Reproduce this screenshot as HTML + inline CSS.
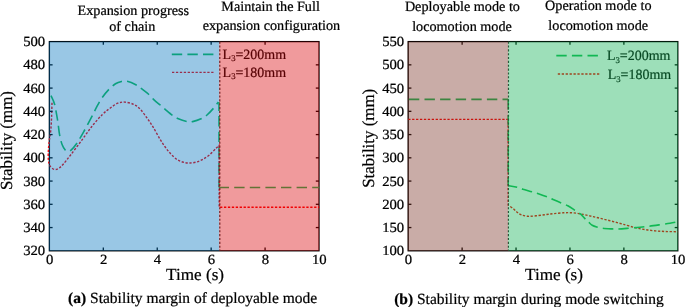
<!DOCTYPE html>
<html><head><meta charset="utf-8"><title>Stability margin</title>
<style>
html,body{margin:0;padding:0;background:#fff;}
body{width:685px;height:307px;overflow:hidden;}
svg{display:block;will-change:transform;}
text{font-family:"Liberation Serif",serif;fill:#000;text-rendering:geometricPrecision;stroke:#000;stroke-width:0.22px;}
.tt{font-size:14.2px;}
.tk{font-size:14px;}
.ax{font-size:16.9px;}
.cp{font-size:15.5px;}
.lg{font-size:14.2px;}
.sb{font-size:8.8px;}
</style></head><body>
<svg width="685" height="307" viewBox="0 0 685 307">
<rect width="685" height="307" fill="#fff"/>
<rect x="49.40" y="41.60" width="269.60" height="209.20" fill="none" stroke="#000" stroke-width="1.3"/>
<path d="M51.00,95.60 C51.58,97.00 53.40,99.88 54.50,104.00 C55.60,108.12 56.75,115.15 57.60,120.30 C58.45,125.45 58.83,130.82 59.60,134.90 C60.37,138.98 61.23,142.23 62.20,144.80 C63.17,147.37 64.43,149.22 65.40,150.30 C66.37,151.38 67.10,151.28 68.00,151.30 C68.90,151.32 69.35,151.70 70.80,150.40 C72.25,149.10 74.43,146.82 76.70,143.50 C78.97,140.18 81.88,134.97 84.40,130.50 C86.92,126.03 89.68,120.77 91.80,116.70 C93.92,112.63 95.42,109.22 97.10,106.10 C98.78,102.98 99.97,100.75 101.90,98.00 C103.83,95.25 106.43,91.97 108.70,89.60 C110.97,87.23 113.37,85.15 115.50,83.80 C117.63,82.45 119.55,81.92 121.50,81.50 C123.45,81.08 124.73,80.72 127.20,81.30 C129.67,81.88 133.92,83.77 136.30,85.00 C138.68,86.23 139.40,87.12 141.50,88.70 C143.60,90.28 146.77,92.60 148.90,94.50 C151.03,96.40 152.35,98.30 154.30,100.10 C156.25,101.90 158.78,103.77 160.60,105.30 C162.42,106.83 163.22,107.63 165.20,109.30 C167.18,110.97 170.42,113.77 172.50,115.30 C174.58,116.83 175.33,117.47 177.70,118.50 C180.07,119.53 184.22,120.98 186.70,121.50 C189.18,122.02 190.10,122.10 192.60,121.60 C195.10,121.10 199.30,119.60 201.70,118.50 C204.10,117.40 205.03,116.70 207.00,115.00 C208.97,113.30 211.62,110.47 213.50,108.30 C215.38,106.13 217.50,103.05 218.30,102.00" fill="none" stroke="#14be55" stroke-width="1.6" stroke-dasharray="10.4 5.2"/>
<path d="M219.0,102.0 V187.5" fill="none" stroke="#14be55" stroke-width="1.6" stroke-dasharray="10.4 5.2" stroke-dashoffset="1.5"/>
<path d="M219.0,187.5 H319.2" fill="none" stroke="#14be55" stroke-width="1.6" stroke-dasharray="10.4 5.2" stroke-dashoffset="0.4"/>
<path d="M52.00,102.80 C51.93,105.17 51.80,112.47 51.60,117.00 C51.40,121.53 51.17,126.17 50.80,130.00 C50.43,133.83 49.80,136.67 49.40,140.00 C49.00,143.33 48.57,146.67 48.40,150.00 C48.23,153.33 48.12,157.33 48.40,160.00 C48.68,162.67 49.13,164.43 50.10,166.00 C51.07,167.57 52.83,168.97 54.20,169.40 C55.57,169.83 56.83,169.42 58.30,168.60 C59.77,167.78 60.95,166.77 63.00,164.50 C65.05,162.23 67.57,158.92 70.60,155.00 C73.63,151.08 77.67,145.75 81.20,141.00 C84.73,136.25 88.27,130.92 91.80,126.50 C95.33,122.08 99.37,117.55 102.40,114.50 C105.43,111.45 107.43,110.08 110.00,108.20 C112.57,106.32 115.32,104.22 117.80,103.20 C120.28,102.18 122.20,101.88 124.90,102.10 C127.60,102.32 131.42,103.28 134.00,104.50 C136.58,105.72 138.23,107.15 140.40,109.40 C142.57,111.65 144.90,115.08 147.00,118.00 C149.10,120.92 150.83,123.37 153.00,126.90 C155.17,130.43 157.97,135.85 160.00,139.20 C162.03,142.55 163.47,144.62 165.20,147.00 C166.93,149.38 168.43,151.42 170.40,153.50 C172.37,155.58 174.82,158.03 177.00,159.50 C179.18,160.97 181.33,161.72 183.50,162.30 C185.67,162.88 187.83,163.05 190.00,163.00 C192.17,162.95 194.33,162.62 196.50,162.00 C198.67,161.38 200.82,160.50 203.00,159.30 C205.18,158.10 207.42,156.63 209.60,154.80 C211.78,152.97 214.53,149.85 216.10,148.30 C217.67,146.75 218.52,145.97 219.00,145.50 L219.2,207.2 L319.2,207.2" fill="none" stroke="#ff0000" stroke-width="1.4" stroke-dasharray="2.3 1.62"/>
<line x1="219.8" y1="41.6" x2="219.8" y2="250.8" stroke="#333" stroke-width="1.2" stroke-dasharray="2.1 1.75"/>
<line x1="171.8" y1="54.4" x2="213.5" y2="54.4" stroke="#14be55" stroke-width="1.6" stroke-dasharray="10.4 5.2"/>
<line x1="172.0" y1="72.4" x2="213.7" y2="72.4" stroke="#ff0000" stroke-width="1.4" stroke-dasharray="2.3 1.62"/>
<text transform="translate(222.6,58.9) scale(0.985,1)" class="lg">L<tspan class="sb" dy="2.3">3</tspan><tspan dy="-2.3">=200mm</tspan></text>
<text transform="translate(222.6,77.1) scale(0.985,1)" class="lg">L<tspan class="sb" dy="2.3">3</tspan><tspan dy="-2.3">=180mm</tspan></text>
<rect x="48.80" y="41.60" width="170.40" height="209.20" fill="rgb(0,114,189)" fill-opacity="0.40"/>
<rect x="219.20" y="41.60" width="99.95" height="209.20" fill="rgb(218,3,8)" fill-opacity="0.40"/>
<path d="M103.32,250.80 v-3.2 M103.32,41.60 v3.2" stroke="rgb(0,46,76)" stroke-width="1.3" fill="none"/><path d="M157.24,250.80 v-3.2 M157.24,41.60 v3.2" stroke="rgb(0,46,76)" stroke-width="1.3" fill="none"/><path d="M211.16,250.80 v-3.2 M211.16,41.60 v3.2" stroke="rgb(0,46,76)" stroke-width="1.3" fill="none"/><path d="M265.08,250.80 v-3.2 M265.08,41.60 v3.2" stroke="rgb(87,1,3)" stroke-width="1.3" fill="none"/><path d="M49.40,64.84 h3.2" stroke="rgb(0,46,76)" stroke-width="1.3" fill="none"/><path d="M319.00,64.84 h-3.2" stroke="rgb(87,1,3)" stroke-width="1.3" fill="none"/><path d="M49.40,88.09 h3.2" stroke="rgb(0,46,76)" stroke-width="1.3" fill="none"/><path d="M319.00,88.09 h-3.2" stroke="rgb(87,1,3)" stroke-width="1.3" fill="none"/><path d="M49.40,111.33 h3.2" stroke="rgb(0,46,76)" stroke-width="1.3" fill="none"/><path d="M319.00,111.33 h-3.2" stroke="rgb(87,1,3)" stroke-width="1.3" fill="none"/><path d="M49.40,134.58 h3.2" stroke="rgb(0,46,76)" stroke-width="1.3" fill="none"/><path d="M319.00,134.58 h-3.2" stroke="rgb(87,1,3)" stroke-width="1.3" fill="none"/><path d="M49.40,157.82 h3.2" stroke="rgb(0,46,76)" stroke-width="1.3" fill="none"/><path d="M319.00,157.82 h-3.2" stroke="rgb(87,1,3)" stroke-width="1.3" fill="none"/><path d="M49.40,181.07 h3.2" stroke="rgb(0,46,76)" stroke-width="1.3" fill="none"/><path d="M319.00,181.07 h-3.2" stroke="rgb(87,1,3)" stroke-width="1.3" fill="none"/><path d="M49.40,204.31 h3.2" stroke="rgb(0,46,76)" stroke-width="1.3" fill="none"/><path d="M319.00,204.31 h-3.2" stroke="rgb(87,1,3)" stroke-width="1.3" fill="none"/><path d="M49.40,227.56 h3.2" stroke="rgb(0,46,76)" stroke-width="1.3" fill="none"/><path d="M319.00,227.56 h-3.2" stroke="rgb(87,1,3)" stroke-width="1.3" fill="none"/>
<rect x="408.20" y="41.60" width="269.60" height="209.20" fill="none" stroke="#000" stroke-width="1.3"/>
<path d="M408.2,119.4 L508.2,119.4 L508.3,205.2 L508.30,205.20 C509.12,205.77 511.72,207.42 513.20,208.60 C514.68,209.78 515.85,211.27 517.20,212.30 C518.55,213.33 519.53,214.13 521.30,214.80 C523.07,215.47 525.35,216.13 527.80,216.30 C530.25,216.47 533.00,216.08 536.00,215.80 C539.00,215.52 542.82,214.97 545.80,214.60 C548.78,214.23 550.92,213.90 553.90,213.60 C556.88,213.30 561.02,212.95 563.70,212.80 C566.38,212.65 567.87,212.63 570.00,212.70 C572.13,212.77 574.33,212.92 576.50,213.20 C578.67,213.48 580.82,213.95 583.00,214.40 C585.18,214.85 587.42,215.42 589.60,215.90 C591.78,216.38 593.93,216.80 596.10,217.30 C598.27,217.80 600.43,218.37 602.60,218.90 C604.77,219.43 606.93,219.95 609.10,220.50 C611.27,221.05 613.42,221.62 615.60,222.20 C617.78,222.78 619.88,223.35 622.20,224.00 C624.52,224.65 626.62,225.33 629.50,226.10 C632.38,226.87 635.65,227.85 639.50,228.60 C643.35,229.35 648.25,230.12 652.60,230.60 C656.95,231.08 661.37,231.32 665.60,231.50 C669.83,231.68 675.93,231.67 678.00,231.70" fill="none" stroke="#ff0000" stroke-width="1.4" stroke-dasharray="2.3 1.62"/>
<path d="M408.2,99.4 H508.2" fill="none" stroke="#14be55" stroke-width="1.6" stroke-dasharray="10.4 5.2" stroke-dashoffset="14.9"/>
<path d="M508.2,99.4 V185.6" fill="none" stroke="#14be55" stroke-width="1.6" stroke-dasharray="10.4 5.2"/>
<path d="M508.30,185.60 C509.78,185.87 514.77,186.60 517.20,187.20 C519.63,187.80 520.45,188.43 522.90,189.20 C525.35,189.97 529.32,191.03 531.90,191.80 C534.48,192.57 535.82,192.93 538.40,193.80 C540.98,194.67 544.95,196.05 547.40,197.00 C549.85,197.95 550.78,198.50 553.10,199.50 C555.42,200.50 558.85,201.95 561.30,203.00 C563.75,204.05 565.48,204.55 567.80,205.80 C570.12,207.05 573.10,209.15 575.20,210.50 C577.30,211.85 578.70,212.47 580.40,213.90 C582.10,215.33 583.98,217.68 585.40,219.10" fill="none" stroke="#14be55" stroke-width="1.6" stroke-dasharray="10.4 5.2" stroke-dashoffset="1.40"/>
<path d="M585.40,219.10 C586.82,220.52 587.77,221.38 588.90,222.40 C590.03,223.42 590.90,224.43 592.20,225.20 C593.50,225.97 594.97,226.48 596.70,227.00 C598.43,227.52 599.98,227.98 602.60,228.30 C605.22,228.62 609.78,228.78 612.40,228.90 C615.02,229.02 615.70,229.10 618.30,229.00 C620.90,228.90 624.38,228.60 628.00,228.30 C631.62,228.00 636.45,227.55 640.00,227.20 C643.55,226.85 645.85,226.63 649.30,226.20 C652.75,225.77 657.25,225.10 660.70,224.60 C664.15,224.10 667.12,223.70 670.00,223.20 C672.88,222.70 676.67,221.87 678.00,221.60" fill="none" stroke="#14be55" stroke-width="1.6" stroke-dasharray="10.4 5.2" stroke-dashoffset="10.94"/>
<line x1="508.5" y1="41.6" x2="508.4" y2="250.8" stroke="#333" stroke-width="1.2" stroke-dasharray="2.1 1.75"/>
<line x1="556.3" y1="55.6" x2="598.2" y2="55.6" stroke="#14be55" stroke-width="1.6" stroke-dasharray="10.4 5.2"/>
<line x1="557.8" y1="74.0" x2="599.3" y2="74.0" stroke="#ff0000" stroke-width="1.4" stroke-dasharray="2.3 1.62"/>
<text transform="translate(606.9,60.3) scale(0.985,1)" class="lg">L<tspan class="sb" dy="2.3">3</tspan><tspan dy="-2.3">=200mm</tspan></text>
<text transform="translate(607.7,79.3) scale(0.985,1)" class="lg">L<tspan class="sb" dy="2.3">3</tspan><tspan dy="-2.3">=180mm</tspan></text>
<rect x="407.60" y="41.60" width="100.60" height="209.20" fill="rgb(120,48,35)" fill-opacity="0.40"/>
<rect x="508.20" y="41.60" width="169.85" height="209.20" fill="rgb(10,175,80)" fill-opacity="0.40"/>
<path d="M462.12,250.80 v-3.2 M462.12,41.60 v3.2" stroke="rgb(48,19,14)" stroke-width="1.3" fill="none"/><path d="M516.04,250.80 v-3.2 M516.04,41.60 v3.2" stroke="rgb(4,70,32)" stroke-width="1.3" fill="none"/><path d="M569.96,250.80 v-3.2 M569.96,41.60 v3.2" stroke="rgb(4,70,32)" stroke-width="1.3" fill="none"/><path d="M623.88,250.80 v-3.2 M623.88,41.60 v3.2" stroke="rgb(4,70,32)" stroke-width="1.3" fill="none"/><path d="M408.20,64.84 h3.2" stroke="rgb(48,19,14)" stroke-width="1.3" fill="none"/><path d="M677.90,64.84 h-3.2" stroke="rgb(4,70,32)" stroke-width="1.3" fill="none"/><path d="M408.20,88.09 h3.2" stroke="rgb(48,19,14)" stroke-width="1.3" fill="none"/><path d="M677.90,88.09 h-3.2" stroke="rgb(4,70,32)" stroke-width="1.3" fill="none"/><path d="M408.20,111.33 h3.2" stroke="rgb(48,19,14)" stroke-width="1.3" fill="none"/><path d="M677.90,111.33 h-3.2" stroke="rgb(4,70,32)" stroke-width="1.3" fill="none"/><path d="M408.20,134.58 h3.2" stroke="rgb(48,19,14)" stroke-width="1.3" fill="none"/><path d="M677.90,134.58 h-3.2" stroke="rgb(4,70,32)" stroke-width="1.3" fill="none"/><path d="M408.20,157.82 h3.2" stroke="rgb(48,19,14)" stroke-width="1.3" fill="none"/><path d="M677.90,157.82 h-3.2" stroke="rgb(4,70,32)" stroke-width="1.3" fill="none"/><path d="M408.20,181.07 h3.2" stroke="rgb(48,19,14)" stroke-width="1.3" fill="none"/><path d="M677.90,181.07 h-3.2" stroke="rgb(4,70,32)" stroke-width="1.3" fill="none"/><path d="M408.20,204.31 h3.2" stroke="rgb(48,19,14)" stroke-width="1.3" fill="none"/><path d="M677.90,204.31 h-3.2" stroke="rgb(4,70,32)" stroke-width="1.3" fill="none"/><path d="M408.20,227.56 h3.2" stroke="rgb(48,19,14)" stroke-width="1.3" fill="none"/><path d="M677.90,227.56 h-3.2" stroke="rgb(4,70,32)" stroke-width="1.3" fill="none"/>
<text transform="translate(45.20,46.20) scale(1.050,1)" class="tk" text-anchor="end">500</text>
<text transform="translate(45.20,69.44) scale(1.050,1)" class="tk" text-anchor="end">480</text>
<text transform="translate(45.20,92.69) scale(1.050,1)" class="tk" text-anchor="end">460</text>
<text transform="translate(45.20,115.93) scale(1.050,1)" class="tk" text-anchor="end">440</text>
<text transform="translate(45.20,139.18) scale(1.050,1)" class="tk" text-anchor="end">420</text>
<text transform="translate(45.20,162.42) scale(1.050,1)" class="tk" text-anchor="end">400</text>
<text transform="translate(45.20,185.67) scale(1.050,1)" class="tk" text-anchor="end">380</text>
<text transform="translate(45.20,208.91) scale(1.050,1)" class="tk" text-anchor="end">360</text>
<text transform="translate(45.20,232.16) scale(1.050,1)" class="tk" text-anchor="end">340</text>
<text transform="translate(45.20,255.40) scale(1.050,1)" class="tk" text-anchor="end">320</text>
<text transform="translate(404.20,46.20) scale(1.050,1)" class="tk" text-anchor="end">550</text>
<text transform="translate(404.20,69.44) scale(1.050,1)" class="tk" text-anchor="end">500</text>
<text transform="translate(404.20,92.69) scale(1.050,1)" class="tk" text-anchor="end">450</text>
<text transform="translate(404.20,115.93) scale(1.050,1)" class="tk" text-anchor="end">400</text>
<text transform="translate(404.20,139.18) scale(1.050,1)" class="tk" text-anchor="end">350</text>
<text transform="translate(404.20,162.42) scale(1.050,1)" class="tk" text-anchor="end">300</text>
<text transform="translate(404.20,185.67) scale(1.050,1)" class="tk" text-anchor="end">250</text>
<text transform="translate(404.20,208.91) scale(1.050,1)" class="tk" text-anchor="end">200</text>
<text transform="translate(404.20,232.16) scale(1.050,1)" class="tk" text-anchor="end">150</text>
<text transform="translate(404.20,255.40) scale(1.050,1)" class="tk" text-anchor="end">100</text>
<text transform="translate(49.70,263.50) scale(1.050,1)" class="tk" text-anchor="middle">0</text>
<text transform="translate(408.50,263.50) scale(1.050,1)" class="tk" text-anchor="middle">0</text>
<text transform="translate(103.62,263.50) scale(1.050,1)" class="tk" text-anchor="middle">2</text>
<text transform="translate(462.42,263.50) scale(1.050,1)" class="tk" text-anchor="middle">2</text>
<text transform="translate(157.54,263.50) scale(1.050,1)" class="tk" text-anchor="middle">4</text>
<text transform="translate(516.34,263.50) scale(1.050,1)" class="tk" text-anchor="middle">4</text>
<text transform="translate(211.46,263.50) scale(1.050,1)" class="tk" text-anchor="middle">6</text>
<text transform="translate(570.26,263.50) scale(1.050,1)" class="tk" text-anchor="middle">6</text>
<text transform="translate(265.38,263.50) scale(1.050,1)" class="tk" text-anchor="middle">8</text>
<text transform="translate(624.18,263.50) scale(1.050,1)" class="tk" text-anchor="middle">8</text>
<text transform="translate(319.30,263.50) scale(1.050,1)" class="tk" text-anchor="middle">10</text>
<text transform="translate(678.10,263.50) scale(1.050,1)" class="tk" text-anchor="middle">10</text>
<text transform="translate(195.10,279.80) scale(1.015,1)" class="ax" text-anchor="middle">Time (s)</text>
<text transform="translate(554.00,279.80) scale(1.015,1)" class="ax" text-anchor="middle">Time (s)</text>
<text transform="translate(12.4,140.6) rotate(-90)" class="ax" text-anchor="middle">Stability (mm)</text>
<text transform="translate(374.4,138.3) rotate(-90)" class="ax" text-anchor="middle">Stability (mm)</text>
<text x="133.3" y="14.6" class="tt" text-anchor="middle">Expansion progress</text>
<text x="132.3" y="31.0" class="tt" text-anchor="middle">of chain</text>
<text x="270.6" y="11.4" class="tt" text-anchor="middle">Maintain the Full</text>
<text x="271.4" y="30.2" class="tt" text-anchor="middle">expansion configuration</text>
<text x="462.4" y="11.4" class="tt" text-anchor="middle">Deployable mode to</text>
<text x="462.0" y="30.5" class="tt" text-anchor="middle">locomotion mode</text>
<text x="598.3" y="10.3" class="tt" text-anchor="middle">Operation mode to</text>
<text x="598.2" y="29.6" class="tt" text-anchor="middle">locomotion mode</text>
<text x="192.6" y="303.2" class="cp" text-anchor="middle"><tspan font-weight="bold">(a)</tspan> Stability margin of deployable mode</text>
<text x="529.0" y="303.6" class="cp" text-anchor="middle"><tspan font-weight="bold">(b)</tspan> Stability margin during mode switching</text>
</svg>
</body></html>
